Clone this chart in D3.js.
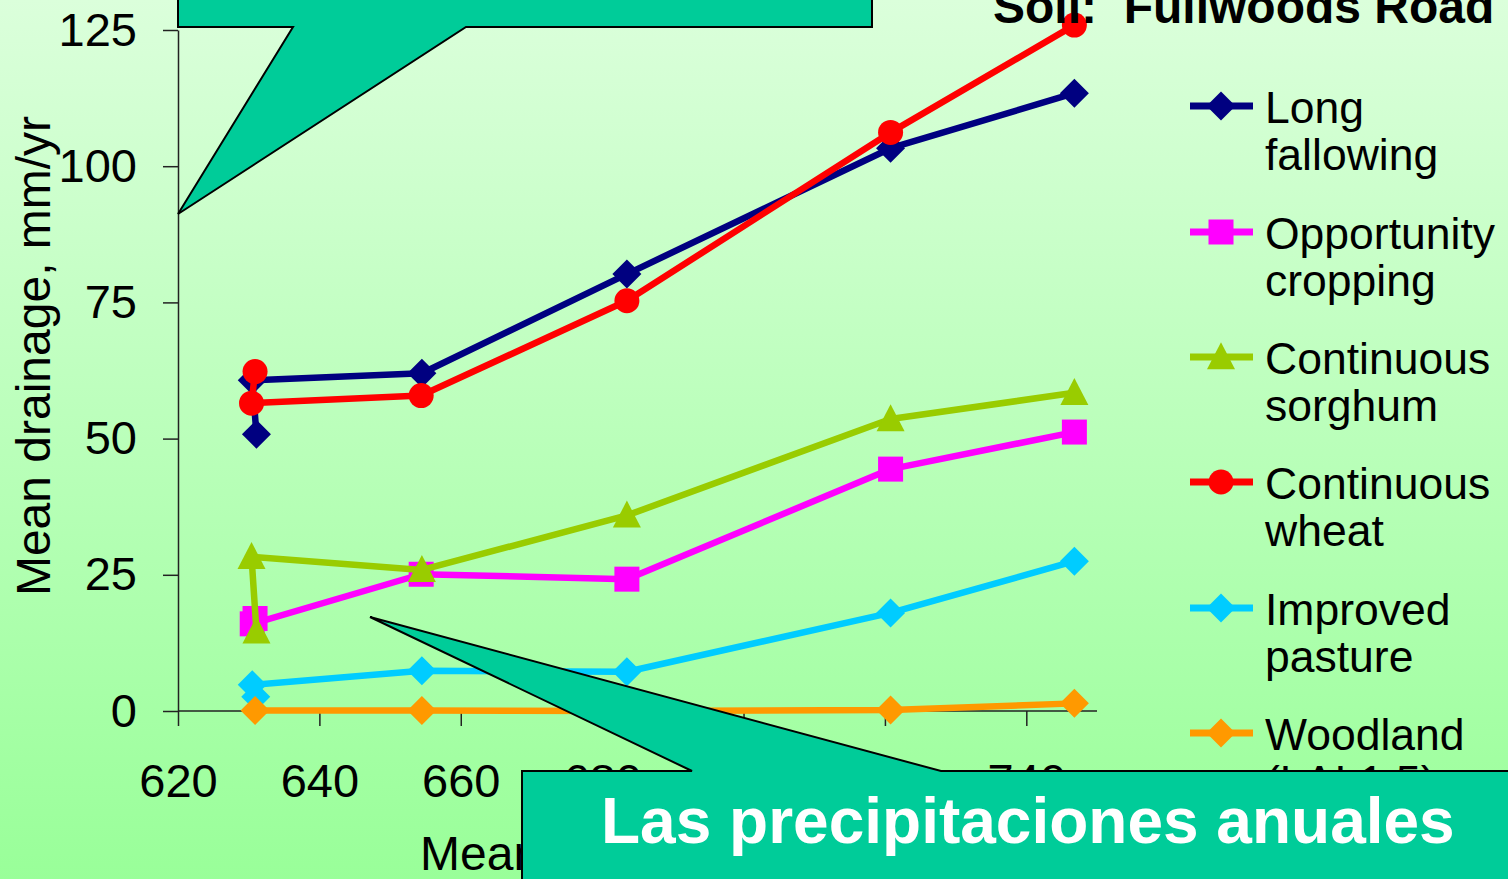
<!DOCTYPE html>
<html>
<head>
<meta charset="utf-8">
<script src="https://cdn.jsdelivr.net/npm/d3@7/dist/d3.min.js"></script>
<style>
  html, body { margin: 0; padding: 0; overflow: hidden; }
  svg { display: block; }
  text { font-family: "Liberation Sans", Arial, sans-serif; }
</style>
</head>
<body>
<svg id="chart" width="1508" height="879"></svg>
<script>
// Mean annual drainage under six land uses, Fullwoods Road soil
const seriesNames = ["Long fallowing", "Opportunity cropping", "Continuous sorghum",
                     "Continuous wheat", "Improved pasture", "Woodland"];
const legendLines = [["Long", "fallowing"], ["Opportunity", "cropping"], ["Continuous", "sorghum"],
                     ["Continuous", "wheat"], ["Improved", "pasture"], ["Woodland", "(LAI 1.5)"]];

// rainfall (mm/yr) and drainage (mm/yr) per series
const longFallowingX = [631.1, 630.5, 654.5, 683.5, 720.8, 746.8];
const longFallowingY = [50.8, 60.7, 62.0, 80.2, 103.3, 113.4];
const opportunityX   = [630.9, 630.5, 654.4, 683.5, 720.8, 746.8];
const opportunityY   = [17.0, 16.0, 25.1, 24.2, 44.4, 51.2];
const sorghumX       = [631.1, 630.4, 654.5, 683.5, 720.8, 746.8];
const sorghumY       = [14.6, 28.3, 25.9, 35.9, 53.6, 58.4];
const wheatX         = [630.9, 630.4, 654.4, 683.5, 720.8, 746.8];
const wheatY         = [62.3, 56.5, 57.9, 75.3, 106.2, 125.9];
const pastureX       = [631.0, 630.5, 654.5, 683.5, 720.8, 746.8];
const pastureY       = [2.6, 4.8, 7.4, 7.2, 18.0, 27.5];
const woodlandX      = [630.9, 654.5, 683.5, 720.8, 746.8];
const woodlandY      = [0.1, 0.1, 0.0, 0.2, 1.4];

const xTicks = [620, 640, 660, 680, 700, 720, 740];
const yTicks = [0, 25, 50, 75, 100, 125];

const seriesX = [longFallowingX, opportunityX, sorghumX, wheatX, pastureX, woodlandX];
const seriesY = [longFallowingY, opportunityY, sorghumY, wheatY, pastureY, woodlandY];
const colors  = ["#000080", "#ff00ff", "#99cc00", "#ff0000", "#00ccff", "#ff9900"];
const shapes  = ["diamond", "square", "triangle", "circle", "diamond", "diamond"];

const svg = d3.select("#chart");
const W = 1508, H = 879;

// background gradient
const defs = svg.append("defs");
const grad = defs.append("linearGradient").attr("id", "bg")
  .attr("x1", 0).attr("y1", 0).attr("x2", 0).attr("y2", 1);
grad.append("stop").attr("offset", "0%").attr("stop-color", "#dbffdb");
grad.append("stop").attr("offset", "100%").attr("stop-color", "#99ff99");
svg.append("rect").attr("width", W).attr("height", H).attr("fill", "url(#bg)");

const x = d3.scaleLinear().domain([620, 750]).range([178, 1097]);
const y = d3.scaleLinear().domain([0, 125]).range([711, 30]);

// axes
const axisColor = "#222";
const xAxis = d3.axisBottom(x).tickValues(xTicks).tickSize(15).tickSizeOuter(0).tickPadding(38);
const yAxis = d3.axisLeft(y).tickValues(yTicks).tickSize(15).tickSizeOuter(0).tickPadding(26);

const gx = svg.append("g").attr("transform", `translate(0,${y(0)})`).call(xAxis);
const gy = svg.append("g").attr("transform", `translate(${x(620)},0)`).call(yAxis);
[gx, gy].forEach(g => {
  g.select(".domain").attr("stroke", axisColor).attr("stroke-width", 1.5);
  g.selectAll(".tick line").attr("stroke", axisColor).attr("stroke-width", 1.5);
  g.selectAll(".tick text").attr("fill", "#000").attr("font-size", 47)
    .attr("font-family", "Liberation Sans, Arial, sans-serif");
});
gx.select(".domain").attr("d", `M${x(620)},0H${x(750)}`);

svg.append("text")
  .attr("transform", "translate(50,356) rotate(-90)")
  .attr("text-anchor", "middle").attr("font-size", 48)
  .text("Mean drainage, mm/yr");

svg.append("text")
  .attr("x", (x(620) + x(750)) / 2).attr("y", 870)
  .attr("text-anchor", "middle").attr("font-size", 48)
  .text("Mean rainfall, mm/yr");

// marker path builder
function markerPath(shape, cx, cy) {
  const p = d3.path();
  if (shape === "diamond") {
    const r = 14.5;
    p.moveTo(cx, cy - r); p.lineTo(cx + r, cy); p.lineTo(cx, cy + r); p.lineTo(cx - r, cy); p.closePath();
  } else if (shape === "square") {
    const r = 12.5;
    p.rect(cx - r, cy - r, 2 * r, 2 * r);
  } else if (shape === "triangle") {
    const w = 14, h = 27;
    p.moveTo(cx, cy - h * 0.55); p.lineTo(cx + w, cy + h * 0.45); p.lineTo(cx - w, cy + h * 0.45); p.closePath();
  } else {
    p.arc(cx, cy, 12.5, 0, 2 * Math.PI);
  }
  return p.toString();
}

// series: line then markers, later series on top
const line = d3.line().x(d => x(d[0])).y(d => y(d[1]));
seriesNames.forEach((name, i) => {
  const pts = seriesX[i].map((v, j) => [v, seriesY[i][j]]);
  const g = svg.append("g").attr("class", "series");
  g.append("path").datum(pts).attr("d", line)
    .attr("fill", "none").attr("stroke", colors[i]).attr("stroke-width", 6.5)
    .attr("stroke-linejoin", "round");
  g.selectAll("path.m").data(pts).join("path").attr("class", "m")
    .attr("d", d => markerPath(shapes[i], x(d[0]), y(d[1])))
    .attr("fill", colors[i]);
});

// legend
const legendY = [106, 232, 357, 482, 608, 733];
seriesNames.forEach((name, i) => {
  const g = svg.append("g");
  g.append("line").attr("x1", 1190).attr("x2", 1253)
    .attr("y1", legendY[i]).attr("y2", legendY[i])
    .attr("stroke", colors[i]).attr("stroke-width", 7);
  g.append("path").attr("d", markerPath(shapes[i], 1221, legendY[i])).attr("fill", colors[i]);
  const t = g.append("text").attr("x", 1265).attr("y", legendY[i] + 17).attr("font-size", 44.5);
  legendLines[i].forEach((s, k) => {
    t.append("tspan").attr("x", 1265).attr("dy", k === 0 ? 0 : 47).text(s);
  });
});

// title
svg.append("text").attr("x", 993).attr("y", 23)
  .attr("font-size", 48).attr("font-weight", "bold")
  .attr("xml:space", "preserve")
  .text("Soil:  Fullwoods Road");

// callouts
const calloutFill = "#00cc99";
svg.append("path")
  .attr("d", "M178,-5 L872,-5 L872,27 L466,27 L178,214 L293,27 L178,27 Z")
  .attr("fill", calloutFill).attr("stroke", "#000").attr("stroke-width", 2)
  .attr("stroke-linejoin", "miter");

svg.append("path")
  .attr("d", "M522,885 L522,771 L692,771 L370,617 L941,771 L1515,771 L1515,885 Z")
  .attr("fill", calloutFill).attr("stroke", "#000").attr("stroke-width", 2)
  .attr("stroke-linejoin", "miter");

svg.append("text").attr("x", 601).attr("y", 843)
  .attr("font-size", 64).attr("font-weight", "bold").attr("fill", "#fff")
  .text("Las precipitaciones anuales");
</script>
</body>
</html>
